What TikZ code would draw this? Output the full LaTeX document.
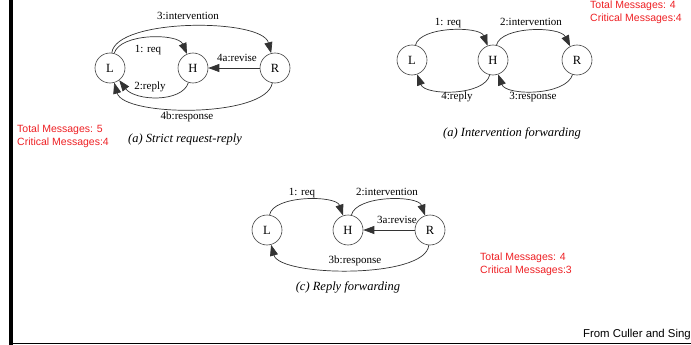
\documentclass[tikz,border=0pt]{standalone}
\usepackage{fontspec}
\setmainfont{Liberation Serif}
\newfontfamily\notefont{Liberation Sans}
\usetikzlibrary{arrows.meta}
\definecolor{notered}{RGB}{238,32,36}

\begin{document}
\begin{tikzpicture}[
    x=1pt, y=-1pt,
    agent/.style={circle, draw=black!75, line width=0.6pt, minimum size=30pt, inner sep=0pt, font=\fontsize{12.5}{12}\selectfont},
    msg/.style={draw=black!80, line width=0.7pt, -{Triangle[length=11pt,width=8pt]}},
    lbl/.style={font=\fontsize{11}{12}\selectfont, inner sep=0pt},
    note/.style={font=\notefont\fontsize{10.5}{13}\selectfont, text=notered, align=left, anchor=north west, inner sep=0pt},
    caption/.style={font=\itshape\fontsize{12.5}{14}\selectfont, inner sep=0pt},
]
\useasboundingbox (0,0) rectangle (691,345);
% page frame
\fill (9,0) rectangle (12.5,345);
\draw[line width=1.5pt] (12,343.5) -- (691,343.5);

\foreach \n/\t/\x/\y in {aL/L/110/68, aH/H/193/68, aR/R/275/68,
                         bL/L/412/60, bH/H/493/60, bR/R/577/60,
                         cL/L/267/230, cH/H/348/230, cR/R/430/230}
  \node[agent] (\n) at (\x,\y) {\t};

% (a) strict request-reply
\draw[msg] (aL) .. controls (116,18) and (262,18) .. (aR);
\draw[msg] (aL) .. controls (120,33) and (178,33) .. (aH);
\draw[msg] (aR) -- (aH);
\draw[msg] (aH) .. controls (182,103) and (135,101) .. (aL);
\draw[msg] (aR) .. controls (266,118) and (124,117) .. (aL);
\node[lbl] (aint) at (188,16) {3:intervention};
\node[lbl] (areq) at (148,50) {1: req};
\node[lbl] (arev) at (237,58) {4a:revise};
\node[lbl] (arep) at (150,87) {2:reply};
\node[lbl] (ares) at (187,117) {4b:response};
\node[caption] (acap) at (185,140) {(a) Strict request-reply};
\node[note] (anote) at (17,124.5) {Total Messages: 5\\Critical Messages:4};

% (b) intervention forwarding
\draw[msg] (bL) .. controls (420,26) and (480,26) .. (bH);
\draw[msg] (bH) .. controls (501,26) and (560,26) .. (bR);
\draw[msg] (bH) .. controls (485,96) and (425,96) .. (bL);
\draw[msg] (bR) .. controls (566,96) and (506,96) .. (bH);
\node[lbl] (breq) at (448,23) {1: req};
\node[lbl] (bint) at (531,22) {2:intervention};
\node[lbl] (brep) at (457,97) {4:reply};
\node[lbl] (bres) at (533,97) {3:response};
\node[caption] (bcap) at (512,133) {(a) Intervention forwarding};
\node[note] (bnote) at (590,0.5) {Total Messages: 4\\Critical Messages:4};

% (c) reply forwarding
\draw[msg] (cL) .. controls (273,195) and (336,195) .. (cH);
\draw[msg] (cH) .. controls (356,195) and (418,195) .. (cR);
\draw[msg] (cR) -- (cH);
\draw[msg] (cR) .. controls (426,279) and (280,277) .. (cL);
\node[lbl] (creq) at (302,193) {1: req};
\node[lbl] (cint) at (387,192) {2:intervention};
\node[lbl] (crev) at (397,220) {3a:revise};
\node[lbl] (cres) at (355,261) {3b:response};
\node[caption] (ccap) at (348,287) {(c) Reply forwarding};
\node[note] (cnote) at (480,253) {Total Messages: 4\\Critical Messages:3};

\node[font=\notefont\fontsize{11.4}{12}\selectfont, anchor=south east, inner sep=0pt] (src) at (691,340) {From Culler and Sing};
\end{tikzpicture}
\end{document}
